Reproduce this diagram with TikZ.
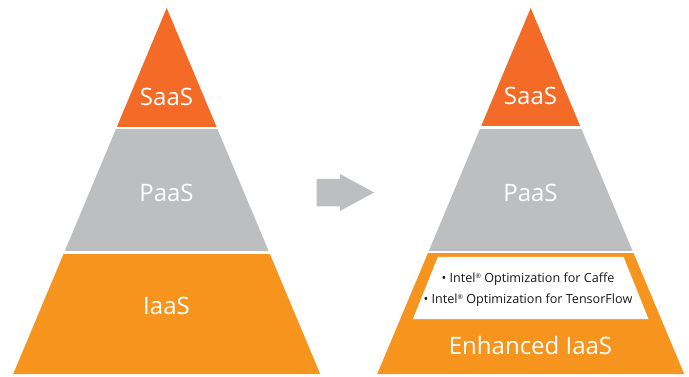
\documentclass[tikz,border=0pt]{standalone}
\usepackage{fontspec}
\setmainfont{Open Sans}
\definecolor{saas}{RGB}{243,107,38}
\definecolor{paas}{RGB}{188,190,192}
\definecolor{iaas}{RGB}{247,148,29}
\newcommand{\regmark}{{\fontsize{6.5}{6.5}\selectfont\raisebox{3.4pt}{®}}}
\tikzset{
  big/.style={text=white, font=\fontsize{24}{24}\selectfont, inner sep=0pt},
  small/.style={text=black!90, font=\fontsize{12.6}{12.6}\selectfont, inner sep=0pt},
}
\begin{document}
\begin{tikzpicture}[x=1pt,y=-1pt]
\useasboundingbox (0,0) rectangle (689,377);
% left pyramid
\begin{scope}
  \clip (166.7,8) -- (13.2,374) -- (320.2,374) -- cycle;
  \fill[saas] (0,0) rectangle (689,127);
  \fill[paas] (0,129.5) rectangle (689,251.5);
  \fill[iaas] (0,254) rectangle (689,377);
\end{scope}
% right pyramid
\begin{scope}
  \clip (530.7,8) -- (377.2,374) -- (684.2,374) -- cycle;
  \fill[saas] (0,0) rectangle (689,126.5);
  \fill[paas] (0,128.8) rectangle (689,250.8);
  \fill[iaas] (0,253.5) rectangle (689,377);
\end{scope}
% white inset box
\fill[white] (437.8,257) -- (623.6,257) -- (648.5,319) -- (412.9,319) -- cycle;
% arrow
\fill[paas] (316.7,179) -- (340,179) -- (340,174) -- (374,192.5) -- (340,211) -- (340,206.5) -- (316.7,206.5) -- cycle;
% labels
\node[big] (ls) at (166.5,97) {SaaS};
\node[big] (lp) at (166.5,193) {PaaS};
\node[big] (li) at (166.5,306) {IaaS};
\node[big] (rs) at (530.5,96) {SaaS};
\node[big] (rp) at (530.5,193) {PaaS};
\node[big] (ri) at (530.5,345) {Enhanced IaaS};
\node[small] (c1) at (528,279) {\textbullet\ Intel\regmark\ Optimization for Caffe};
\node[small] (c2) at (528,300) {\textbullet\ Intel\regmark\ Optimization for TensorFlow};
\end{tikzpicture}
\end{document}
